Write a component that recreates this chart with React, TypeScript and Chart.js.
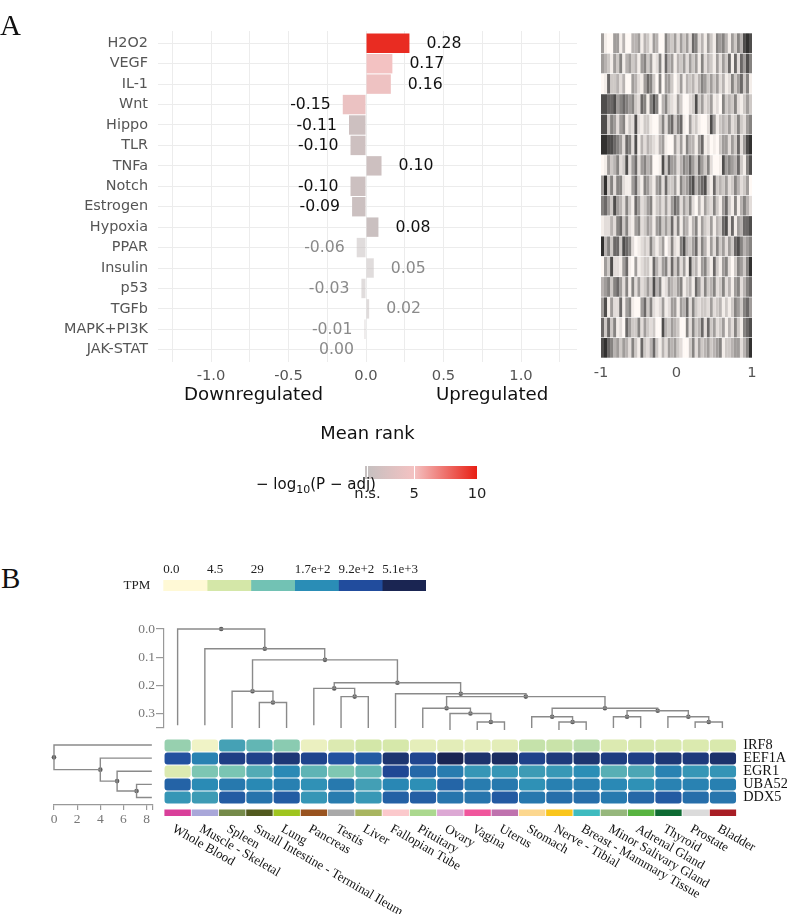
import React, { useEffect, useRef } from "react";
import { Chart, registerables } from "chart.js";

Chart.register(...registerables);

const SANS = "'DejaVu Sans'";
const SERIF = "'Liberation Serif'";

// Panel A: pathway activity
const pathways = ["H2O2", "VEGF", "IL-1", "Wnt", "Hippo", "TLR", "TNFa", "Notch", "Estrogen", "Hypoxia", "PPAR", "Insulin", "p53", "TGFb", "MAPK+PI3K", "JAK-STAT"];
const meanRank = [0.28, 0.17, 0.16, -0.15, -0.11, -0.10, 0.10, -0.10, -0.09, 0.08, -0.06, 0.05, -0.03, 0.02, -0.01, 0.00];
const negLogP = [9.6, 4.9, 4.5, 4.3, 1.9, 1.9, 1.9, 1.8, 1.7, 1.6, 1.0, 0.8, 0.7, 0.4, 0.3, 0.1];
const rankTicks = [-1.25, -1, -0.75, -0.5, -0.25, 0, 0.25, 0.5, 0.75, 1, 1.25];
const rankLabels = [-1, -0.5, 0, 0.5, 1];

// Barcode strips: grey level (0 white .. 9 dark) of consecutive cells across -1..1
const barcodeRows = [
  "51005514004451431540064352535276241531656415364898",
  "54315361453415635126174514352535162431525371727586",
  "01733424005421576306055302514342465353524126357361",
  "88778567656327616860463215300238352351206343621353",
  "88365256132821331003626736710523100285134352363256",
  "99887652762814243214510052516441571201035525372589",
  "01534623825725645001837552465753753620018565473168",
  "59362662115731653156273351645784678317343523642350",
  "67538542631752356134252576253620415326315731614642",
  "12242673621562354156353726154146153251437827154778",
  "94637738762012326313502621684357264152635253786456",
  "05382215710512331742562736251834156317315620365369",
  "45636752616252353846125435613417526346236241562467",
  "58152271561005736212512551547263233252341313653675",
  "73736120753362532300843543006263472735235142631678",
  "89764535426317324731425453200362534534561334552469",
];
const barcodeTicks = [-1, 0, 1];

// Panel B: heatmap, log10(TPM + 1)
const tissues = ["Whole Blood", "Muscle - Skeletal", "Spleen", "Small Intestine - Terminal Ileum", "Lung", "Pancreas", "Testis", "Liver", "Fallopian Tube", "Pituitary", "Ovary", "Vagina", "Uterus", "Stomach", "Nerve - Tibial", "Breast - Mammary Tissue", "Minor Salivary Gland", "Adrenal Gland", "Thyroid", "Prostate", "Bladder"];
const tissueColors = ["#d9409a", "#a9a7d9", "#758a4a", "#525a1f", "#9fc51f", "#99531f", "#a9a9a9", "#a8b560", "#fbc9cc", "#abd88f", "#dca8d4", "#f0569c", "#bf72ae", "#fcd78f", "#fac61d", "#3ebbbf", "#96b77c", "#58b441", "#0e6b33", "#dbdbdb", "#a81e25"];
const genes = ["IRF8", "EEF1A1", "EGR1", "UBA52", "DDX5"];
const irf8 = [1.2, 0.25, 1.95, 1.65, 1.3, 0.35, 0.6, 0.75, 0.7, 0.45, 0.48, 0.45, 0.48, 0.85, 0.82, 0.92, 0.6, 0.68, 0.65, 0.62, 0.66];
const eef1a1 = [2.9, 2.35, 3.2, 3.15, 3.35, 3.12, 2.9, 2.8, 3.4, 3.1, 3.7, 3.45, 3.55, 3.15, 3.3, 3.4, 3.25, 3.2, 3.35, 3.3, 3.45];
const egr1 = [0.6, 1.4, 1.42, 1.8, 2.27, 1.68, 1.38, 1.65, 3.05, 2.65, 2.42, 2.1, 2.1, 2.03, 2.08, 2.22, 1.75, 1.88, 2.35, 2.1, 2.13];
const uba52 = [2.7, 2.25, 2.45, 2.28, 2.38, 2.17, 2.45, 1.97, 2.3, 2.2, 2.68, 2.42, 2.45, 2.18, 2.38, 2.38, 2.27, 2.18, 2.35, 2.35, 2.38];
const ddx5 = [2.1, 2.03, 2.78, 2.52, 2.78, 2.1, 2.42, 2.08, 2.72, 2.76, 2.5, 2.5, 2.8, 2.47, 2.58, 2.58, 2.44, 2.66, 2.8, 2.58, 2.5];
const geneValues = [irf8, eef1a1, egr1, uba52, ddx5];

const tpmLabels = ["0.0", "4.5", "29", "1.7e+2", "9.2e+2", "5.1e+3"];
const tpmLevels = [0, 0.74, 1.48, 2.23, 2.96, 3.7];
const tpmColors = ["#fff9d6", "#d4e7a8", "#72c2b4", "#2a8db6", "#214c9d", "#1a2552"];

// Dendrograms: [left x, right x, height, left leaf end, right leaf end] (null = ends at another merge)
const colMerges: (number | null)[][] = [
  [0, 3.2, 0, 0.34, null],
  [1, 5.4, 0.07, 0.34, null],
  [2.75, 8.07, 0.109, null, null],
  [2, 3.5, 0.22, 0.35, null],
  [3, 4, 0.26, 0.35, 0.35],
  [5.75, 10.39, 0.19, null, null],
  [5, 6.5, 0.21, 0.34, null],
  [6, 7, 0.239, 0.35, 0.35],
  [8, 12.79, 0.229, 0.35, null],
  [9.875, 15.69, 0.239, null, null],
  [9, 10.75, 0.28, 0.35, null],
  [10, 11.5, 0.299, 0.357, null],
  [11, 12, 0.329, 0.357, 0.357],
  [13.75, 17.625, 0.28, null, null],
  [13, 14.5, 0.31, 0.35, null],
  [14, 15, 0.329, 0.357, 0.357],
  [16.5, 18.75, 0.289, null, null],
  [16, 17, 0.31, 0.35, 0.35],
  [18, 19.5, 0.31, 0.35, null],
  [19, 20, 0.329, 0.35, 0.35],
];
const colDendroTicks = [0, 0.1, 0.2, 0.3, 0.35];

// Gene dendrogram: [top y, bottom y, height, top leaf?, bottom leaf?]
const rowMerges: number[][] = [
  [0, 1.875, 0, 1, 0],
  [1, 2.75, 4.0, 1, 0],
  [2, 3.5, 5.45, 1, 0],
  [3, 4, 7.13, 1, 1],
];
const rowLeafEnd = 8.45;
const rowDendroTicks = [0, 2, 4, 6, 8, 8.55];

const hexRgb = (h: string) => [1, 3, 5].map((i) => parseInt(h.slice(i, i + 2), 16));
function ramp(stops: number[], colors: string[], v: number) {
  let k = 0;
  while (k < stops.length - 2 && v > stops[k + 1]) k++;
  const t = Math.max(0, Math.min(1, (v - stops[k]) / (stops[k + 1] - stops[k])));
  const a = hexRgb(colors[k]);
  const b = hexRgb(colors[k + 1]);
  return a.map((c, i) => Math.round(c + (b[i] - c) * t));
}
const heatColor = (v: number) => `rgb(${ramp(tpmLevels, tpmColors, v).join(",")})`;
const pStops = [1.3, 5, 10];
const pColors = ["#c6c0c0", "#f4c2c2", "#e81f14"];
function barColor(v: number) {
  const [r, g, b] = ramp(pStops, pColors, v);
  return v < 1.3 ? `rgba(${r},${g},${b},0.55)` : `rgb(${r},${g},${b})`;
}
const greyOf = (d: number) => {
  const r = Math.round(255 - Math.pow(d / 9, 1.3) * 205);
  return `rgb(${r},${Math.round(r * 0.975)},${Math.round(r * 0.96)})`;
};

const base = { responsive: false, animation: false as const, devicePixelRatio: 1 };
const noPlugins = { legend: { display: false }, tooltip: { enabled: false }, title: { display: false } };
const setTicks = (vals: number[]) => (axis: any) => {
  axis.ticks = vals.map((value) => ({ value }));
};
const fit = (size: { h?: number; w?: number }) => (a: any) => {
  if (size.h !== undefined) a.height = size.h;
  if (size.w !== undefined) a.width = size.w;
  a.paddingTop = 0;
  a.paddingBottom = 0;
  a.paddingLeft = 0;
  a.paddingRight = 0;
};

const valueLabelPlugin = {
  id: "valueLabels",
  afterDatasetsDraw(chart: any) {
    const { ctx, scales } = chart;
    ctx.save();
    ctx.font = `15.7px ${SANS}`;
    ctx.textBaseline = "middle";
    meanRank.forEach((v, i) => {
      const px = scales.x.getPixelForValue(v);
      const py = scales.y.getPixelForValue(i);
      ctx.fillStyle = i < 10 ? "#111111" : "#8a8a8a";
      ctx.textAlign = v > 0 ? "left" : "right";
      ctx.fillText(v.toFixed(2), v > 0 ? px + 17 : px - 12, py + 0.5);
    });
    ctx.restore();
  },
};

const tissueLabelPlugin = {
  id: "tissueLabels",
  afterDraw(chart: any) {
    const { ctx, scales } = chart;
    ctx.save();
    ctx.font = `13px ${SERIF}`;
    ctx.fillStyle = "#111111";
    ctx.textAlign = "left";
    ctx.textBaseline = "middle";
    tissues.forEach((t, i) => {
      ctx.save();
      ctx.translate(scales.x.getPixelForValue(i) - 4.5, 828 - 739);
      ctx.rotate((30 * Math.PI) / 180);
      ctx.fillText(t, 0, 0);
      ctx.restore();
    });
    ctx.restore();
  },
};

function rankConfig(): any {
  return {
    type: "bar",
    data: {
      datasets: [
        {
          data: meanRank.map((v, i) => ({ x: v, y: i })),
          backgroundColor: negLogP.map(barColor),
          borderWidth: 0,
          barPercentage: 0.95,
          categoryPercentage: 1,
        },
      ],
    },
    options: {
      ...base,
      indexAxis: "y",
      layout: { padding: { top: 31, right: 13, left: 0, bottom: 0 } },
      plugins: noPlugins,
      scales: {
        x: {
          type: "linear",
          min: -1.342,
          max: 1.361,
          afterBuildTicks: setTicks(rankTicks),
          afterFit: fit({ h: 83 }),
          grid: { color: "#ececec", lineWidth: 1, drawTicks: false },
          border: { display: false },
          ticks: {
            autoSkip: false,
            maxRotation: 0,
            padding: 5,
            color: "#555555",
            font: { family: SANS, size: 14.7 },
            callback: (v: number) => (rankLabels.includes(v) ? v.toFixed(1) : ""),
          },
          title: { display: true, text: "Mean rank", color: "#111111", font: { family: SANS, size: 17.9 }, padding: { top: 0, bottom: 0 } },
        },
        y: {
          type: "linear",
          reverse: true,
          offset: false,
          min: -0.6,
          max: 15.6,
          afterBuildTicks: setTicks(pathways.map((_, i) => i)),
          afterFit: fit({ w: 158 }),
          grid: { color: "#ececec", lineWidth: 1, drawTicks: false, offset: false },
          border: { display: false },
          ticks: {
            autoSkip: false,
            padding: 10,
            color: "#555555",
            font: { family: SANS, size: 14.4 },
            callback: (v: number) => pathways[v],
          },
        },
      },
    },
    plugins: [valueLabelPlugin],
  };
}

function barcodeConfig(): any {
  const n = Math.max(...barcodeRows.map((r) => r.length));
  const datasets = Array.from({ length: n }, (_, j) => ({
    data: barcodeRows.map((r, i) => ({ x: [-1 + (2 * j) / r.length, -1 + (2 * (j + 1)) / r.length], y: i })),
    backgroundColor: barcodeRows.map((r) => greyOf(Number(r[j] ?? 0))),
    borderWidth: 0,
    grouped: false,
    barPercentage: 0.97,
    categoryPercentage: 1,
  }));
  return {
    type: "bar",
    data: { datasets },
    options: {
      ...base,
      indexAxis: "y",
      layout: { padding: { left: 11, right: 18, top: 0, bottom: 0 } },
      plugins: noPlugins,
      scales: {
        x: {
          type: "linear",
          min: -1,
          max: 1,
          afterBuildTicks: setTicks(barcodeTicks),
          afterFit: fit({ h: 25 }),
          grid: { display: false, drawTicks: false },
          border: { display: false },
          ticks: { padding: 6, maxRotation: 0, color: "#555555", font: { family: SANS, size: 14.7 }, callback: (v: number) => String(v) },
        },
        y: { type: "linear", reverse: true, offset: false, grid: { offset: false }, min: -0.5, max: 15.5, display: false },
      },
    },
  };
}

function pLegendConfig(): any {
  return {
    type: "bar",
    data: {
      labels: [""],
      datasets: [
        {
          data: [[1.1, 10]],
          borderWidth: 0,
          barPercentage: 1,
          categoryPercentage: 1,
          backgroundColor: (c: any) => {
            const { chart } = c;
            const area = chart.chartArea;
            if (!area) return "#cccccc";
            const g = chart.ctx.createLinearGradient(area.left, 0, area.right, 0);
            const sx = chart.scales.x;
            pStops.forEach((s, i) => {
              g.addColorStop(Math.max(0, (sx.getPixelForValue(s) - area.left) / (area.right - area.left)), pColors[i]);
            });
            return g;
          },
        },
      ],
    },
    options: {
      ...base,
      indexAxis: "y",
      layout: { padding: { left: 25, right: 23, top: 6, bottom: 0 } },
      plugins: noPlugins,
      scales: {
        x: {
          type: "linear",
          min: 1.1,
          max: 10,
          afterBuildTicks: setTicks(pStops),
          afterFit: fit({ h: 26 }),
          grid: { color: "#ffffff", lineWidth: 1, z: 1, drawTicks: false },
          border: { display: false },
          ticks: {
            padding: 6,
            maxRotation: 0,
            color: "#222222",
            font: { family: SANS, size: 14.7 },
            callback: (v: number) => (v === pStops[0] ? "n.s." : String(v)),
          },
        },
        y: { display: false },
      },
    },
  };
}

function tpmLegendConfig(): any {
  return {
    type: "bar",
    data: {
      labels: ["TPM"],
      datasets: tpmColors.map((c, k) => ({
        data: [[k, k + 1]],
        backgroundColor: c,
        borderWidth: 0,
        grouped: false,
        barPercentage: 1,
        categoryPercentage: 1,
      })),
    },
    options: {
      ...base,
      indexAxis: "y",
      layout: { padding: { right: 14 } },
      plugins: noPlugins,
      scales: {
        x: {
          type: "linear",
          position: "top",
          min: 0,
          max: 6,
          afterBuildTicks: setTicks(tpmLabels.map((_, i) => i)),
          afterFit: fit({ h: 20 }),
          grid: { display: false, drawTicks: false },
          border: { display: false },
          ticks: { align: "start", padding: 3, maxRotation: 0, color: "#222222", font: { family: SERIF, size: 13 }, callback: (v: number) => tpmLabels[v] },
        },
        y: {
          afterFit: fit({ w: 53.3 }),
          grid: { display: false, drawTicks: false },
          border: { display: false },
          ticks: { padding: 13, color: "#222222", font: { family: SERIF, size: 13 } },
        },
      },
    },
  };
}

const LINE = "#8a8a8a";
const NODE = "#5c5c5c";

function colDendroConfig(): any {
  const endOf = (x: number, h: number) =>
    colMerges.find((m) => Math.abs(((m[0] as number) + (m[1] as number)) / 2 - x) < 0.06 && (m[2] as number) > h)?.[2];
  const links = colMerges.map(([l, r, h, le, re]) => ({
    data: [
      { x: l, y: le ?? endOf(l as number, h as number) },
      { x: l, y: h },
      { x: r, y: h },
      { x: r, y: re ?? endOf(r as number, h as number) },
    ],
    showLine: true,
    borderColor: LINE,
    borderWidth: 1.4,
    pointRadius: 0,
    clip: false,
  }));
  const nodes = {
    data: colMerges.map(([l, r, h]) => ({ x: ((l as number) + (r as number)) / 2, y: h })),
    showLine: false,
    pointRadius: 2.3,
    pointBackgroundColor: NODE,
    pointBorderWidth: 0,
    clip: false,
  };
  return {
    type: "scatter",
    data: { datasets: [...links, nodes] },
    options: {
      ...base,
      layout: { padding: { top: 9, bottom: 7, right: 3.4 } },
      plugins: noPlugins,
      scales: {
        x: { type: "linear", min: -0.5, max: 20.5, display: false },
        y: {
          type: "linear",
          reverse: true,
          min: 0,
          max: 0.35,
          afterBuildTicks: setTicks(colDendroTicks),
          afterFit: fit({ w: 34 }),
          grid: { drawOnChartArea: false, color: "#999999", tickLength: 8, lineWidth: 1.2 },
          border: { color: "#999999", width: 1.2 },
          ticks: {
            autoSkip: false,
            padding: 1,
            color: "#777777",
            font: { family: SERIF, size: 13.5 },
            callback: (v: number) => (v === 0.35 ? "" : v.toFixed(1)),
          },
        },
      },
    },
  };
}

function rowDendroConfig(): any {
  const links = rowMerges.map(([t, b, h, tl, bl]) => ({
    data: [
      { x: tl ? rowLeafEnd : rowMerges.find((m) => (m[0] + m[1]) / 2 === t)![2], y: t },
      { x: h, y: t },
      { x: h, y: b },
      { x: bl ? rowLeafEnd : rowMerges.find((m) => (m[0] + m[1]) / 2 === b)![2], y: b },
    ],
    showLine: true,
    borderColor: LINE,
    borderWidth: 1.4,
    pointRadius: 0,
    clip: false,
  }));
  const nodes = {
    data: rowMerges.map(([t, b, h]) => ({ x: h, y: (t + b) / 2 })),
    showLine: false,
    pointRadius: 2.3,
    pointBackgroundColor: NODE,
    pointBorderWidth: 0,
    clip: false,
  };
  return {
    type: "scatter",
    data: { datasets: [...links, nodes] },
    options: {
      ...base,
      layout: { padding: { left: 14, right: 12, top: 4 } },
      plugins: noPlugins,
      scales: {
        x: {
          type: "linear",
          min: 0,
          max: 8.55,
          afterBuildTicks: setTicks(rowDendroTicks),
          afterFit: fit({ h: 30 }),
          grid: { drawOnChartArea: false, color: "#999999", tickLength: 5, lineWidth: 1.2 },
          border: { color: "#999999", width: 1.2 },
          ticks: {
            autoSkip: false,
            maxRotation: 0,
            padding: 1,
            color: "#777777",
            font: { family: SERIF, size: 13.5 },
            callback: (v: number) => (v === 8.55 ? "" : String(v)),
          },
        },
        y: { type: "linear", reverse: true, min: -0.46, max: 4.57, display: false },
      },
    },
  };
}

function heatConfig(): any {
  const rows = geneValues.map((vals, i) => ({
    data: vals.map(() => [i + 0.04, i + 0.96]),
    backgroundColor: vals.map(heatColor),
    borderWidth: 0,
    borderRadius: 3,
    borderSkipped: false,
    grouped: false,
    barPercentage: 0.96,
    categoryPercentage: 1,
  }));
  const strip = {
    data: tissues.map(() => [5.42, 5.92]),
    backgroundColor: tissueColors,
    borderWidth: 0,
    grouped: false,
    barPercentage: 0.97,
    categoryPercentage: 1,
  };
  return {
    type: "bar",
    data: { labels: tissues, datasets: [...rows, strip] },
    options: {
      ...base,
      layout: { padding: { bottom: 97, top: 0 } },
      plugins: noPlugins,
      scales: {
        x: { type: "category", display: false },
        y: {
          type: "linear",
          position: "right",
          reverse: true,
          min: 0,
          max: 6,
          afterBuildTicks: setTicks(genes.map((_, i) => i + 0.5)),
          afterFit: fit({ w: 50.4 }),
          grid: { display: false, drawTicks: false },
          border: { display: false },
          ticks: {
            autoSkip: false,
            padding: 6.7,
            color: "#111111",
            font: { family: SERIF, size: 14.3 },
            callback: (v: number) => genes[Math.floor(v)],
          },
        },
      },
    },
    plugins: [tissueLabelPlugin],
  };
}

function Panel({ left, top, width, height, config }: { left: number; top: number; width: number; height: number; config: () => any }) {
  const ref = useRef<HTMLCanvasElement>(null);
  useEffect(() => {
    const chart = new Chart(ref.current!, config());
    return () => chart.destroy();
  }, []);
  return <canvas ref={ref} width={width} height={height} style={{ position: "absolute", left, top, width, height, display: "block" }} />;
}

function Note({ left, top, size, font, children }: { left: number; top: number; size: number; font: string; children: React.ReactNode }) {
  return (
    <div style={{ position: "absolute", left, top, fontFamily: font, fontSize: size, lineHeight: `${size}px`, color: "#111111", whiteSpace: "nowrap" }}>
      {children}
    </div>
  );
}

export default function App() {
  return (
    <div style={{ position: "absolute", left: 0, top: 0, width: 787, height: 914, overflow: "hidden", background: "#ffffff" }}>
      <Panel left={0} top={0} width={590} height={445} config={rankConfig} />
      <Panel left={590} top={33} width={180} height={350} config={barcodeConfig} />
      <Panel left={340} top={460} width={160} height={45} config={pLegendConfig} />
      <Panel left={110} top={560} width={330} height={31} config={tpmLegendConfig} />
      <Panel left={130} top={620} width={610} height={115} config={colDendroConfig} />
      <Panel left={40} top={735} width={125} height={100} config={rowDendroConfig} />
      <Panel left={164} top={739} width={623} height={175} config={heatConfig} />
      <Note left={0} top={11} size={29} font={SERIF}>A</Note>
      <Note left={1} top={564} size={29} font={SERIF}>B</Note>
      <Note left={184} top={385} size={18.2} font={SANS}>Downregulated</Note>
      <Note left={436} top={385} size={18.2} font={SANS}>Upregulated</Note>
      <Note left={256} top={477} size={15} font={SANS}>
        {"\u2212"} log<sub style={{ fontSize: 11, lineHeight: 0 }}>10</sub>(P {"\u2212"} adj)
      </Note>
    </div>
  );
}
